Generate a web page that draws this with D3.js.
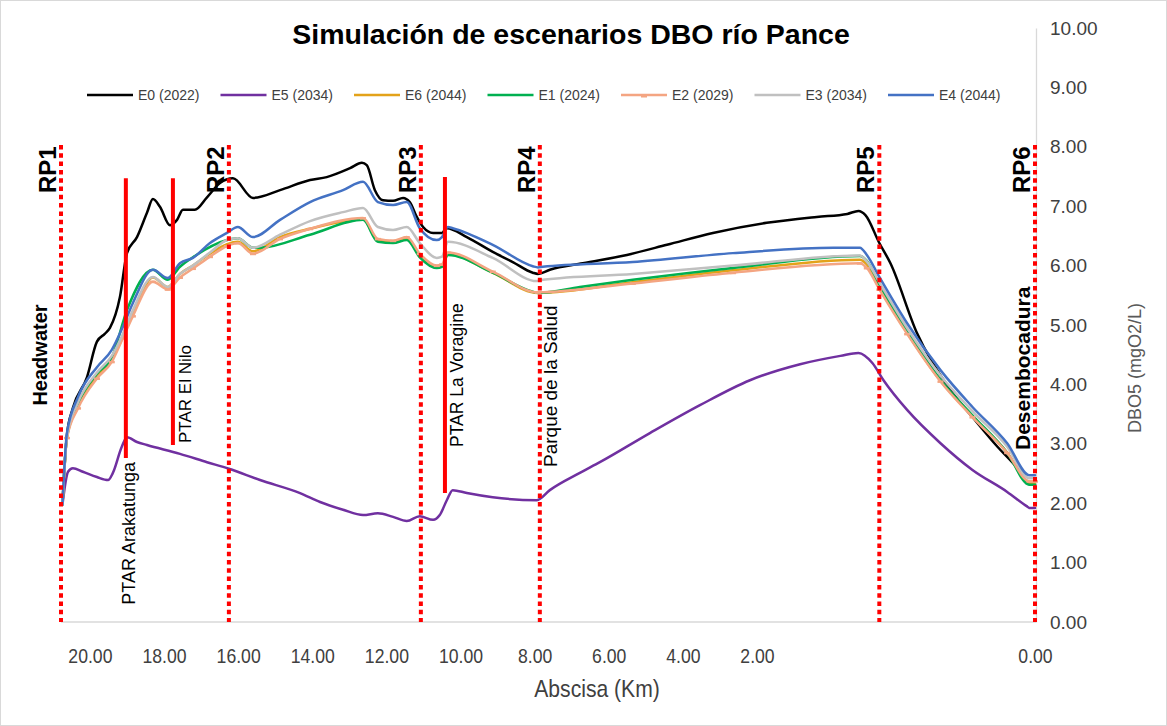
<!DOCTYPE html>
<html>
<head>
<meta charset="utf-8">
<script src="https://cdn.jsdelivr.net/npm/d3@7"></script>
<style>
  html, body { margin: 0; padding: 0; background: #fff; }
  svg { display: block; font-family: "Liberation Sans", Arial, sans-serif; }
</style>
</head>
<body>
<svg id="chart" width="1167" height="726"></svg>
<script>
// Simulated DBO5 (mgO2/L) along the Pance river, by scenario. [abscisa km, value]
const e0 = [[20.74,1.98],[20.62,3.15],[20.46,3.60],[20.08,4.12],[19.81,4.72],[19.60,4.85],[19.46,4.95],[19.19,5.47],[19.00,6.21],[18.73,6.48],[18.46,6.89],[18.30,7.12],[18.11,6.99],[17.84,6.68],[17.65,6.77],[17.49,6.94],[17.17,6.94],[16.84,7.15],[16.49,7.39],[16.14,7.47],[15.60,7.14],[14.87,7.27],[14.06,7.44],[13.61,7.49],[12.98,7.64],[12.66,7.73],[12.53,7.69],[12.31,7.27],[12.09,7.10],[11.82,7.09],[11.55,7.14],[11.37,7.07],[11.18,6.82],[11.01,6.65],[10.74,6.55],[10.50,6.55],[10.37,6.63],[9.83,6.48],[9.13,6.23],[8.59,6.06],[8.05,5.88],[7.91,5.86],[7.59,5.93],[6.70,6.04],[5.51,6.18],[4.43,6.35],[3.19,6.55],[1.93,6.72],[1.57,6.82],[1.35,6.87],[1.27,6.92],[1.22,6.85],[1.12,6.38],[1.04,6.04],[0.85,4.87],[0.61,3.91],[0.45,3.45],[0.27,2.95],[0.13,2.60],[0.03,2.31],[0,2.31]];
const e5 = [[20.74,1.98],[20.59,2.53],[20.46,2.59],[20.19,2.53],[19.81,2.44],[19.51,2.39],[19.38,2.51],[19.14,2.95],[19.00,3.11],[18.73,3.03],[18.46,2.98],[17.57,2.83],[16.84,2.69],[16.25,2.58],[15.41,2.39],[14.33,2.17],[13.79,2.02],[13.17,1.89],[12.63,1.80],[12.23,1.83],[11.82,1.77],[11.45,1.70],[11.10,1.78],[10.74,1.72],[10.56,1.80],[10.37,2.05],[10.21,2.22],[9.83,2.17],[9.13,2.10],[7.94,2.05],[7.59,2.22],[6.78,2.51],[6.24,2.69],[4.89,3.18],[3.54,3.65],[2.19,4.07],[1.69,4.34],[1.40,4.48],[1.27,4.53],[1.17,4.36],[1.09,4.07],[0.92,3.57],[0.68,3.01],[0.45,2.56],[0.20,2.19],[0.06,1.95],[0.04,1.92],[0,1.92]];
const e6 = [[20.74,1.98],[20.62,3.11],[20.32,3.64],[19.81,4.14],[19.41,4.42],[19.11,4.80],[18.84,5.18],[18.30,5.80],[17.90,5.64],[17.57,5.86],[17.22,6.00],[16.76,6.20],[16.30,6.36],[16.01,6.40],[15.60,6.24],[14.87,6.48],[14.06,6.62],[12.63,6.78],[12.23,6.42],[11.82,6.40],[11.45,6.45],[11.10,6.16],[10.64,5.97],[10.50,5.99],[10.34,6.19],[9.13,5.88],[7.91,5.54],[5.35,5.72],[2.65,5.92],[1.26,6.10],[1.21,6.02],[1.12,5.63],[0.92,4.87],[0.68,4.06],[0.45,3.46],[0.20,2.85],[0.04,2.34],[0,2.34]];
const e1 = [[20.74,1.98],[20.62,3.12],[20.32,3.68],[19.81,4.18],[19.41,4.45],[19.00,5.25],[18.30,5.93],[17.90,5.76],[17.57,5.98],[17.22,6.14],[16.30,6.43],[16.01,6.46],[15.60,6.30],[15.41,6.30],[14.06,6.52],[12.63,6.77],[12.23,6.40],[11.82,6.38],[11.45,6.43],[11.10,6.14],[10.64,5.96],[10.50,5.98],[10.34,6.18],[9.13,5.88],[8.05,5.56],[7.91,5.54],[6.78,5.64],[5.35,5.76],[2.65,5.96],[1.26,6.16],[1.21,6.08],[1.12,5.68],[0.92,4.90],[0.68,4.08],[0.45,3.48],[0.20,2.85],[0.04,2.31],[0,2.31]];
const e2 = [[20.74,1.98],[20.62,3.10],[20.32,3.60],[19.81,4.10],[19.41,4.38],[19.11,4.78],[18.84,5.15],[18.30,5.73],[17.90,5.60],[17.57,5.80],[17.22,5.95],[16.76,6.15],[16.30,6.33],[16.01,6.38],[15.60,6.20],[14.87,6.45],[14.06,6.62],[12.63,6.80],[12.23,6.45],[11.82,6.42],[11.45,6.48],[11.10,6.20],[10.64,6.00],[10.50,6.02],[10.34,6.22],[9.13,5.90],[7.91,5.55],[5.35,5.70],[2.65,5.88],[1.26,6.04],[1.21,5.96],[1.12,5.60],[0.92,4.85],[0.68,4.05],[0.45,3.45],[0.20,2.85],[0.04,2.37],[0,2.37]];
const e3 = [[20.74,1.98],[20.62,3.13],[20.32,3.70],[19.81,4.20],[19.41,4.48],[19.11,4.85],[18.84,5.25],[18.30,5.81],[17.90,5.64],[17.57,5.86],[17.22,6.00],[16.76,6.22],[16.30,6.43],[16.01,6.46],[15.60,6.30],[14.87,6.52],[14.06,6.75],[13.17,6.90],[12.63,6.97],[12.23,6.65],[11.82,6.60],[11.45,6.65],[11.10,6.38],[10.64,6.13],[10.50,6.15],[10.34,6.40],[9.13,6.13],[7.94,5.74],[7.78,5.76],[5.35,5.86],[2.65,6.00],[1.26,6.17],[1.21,6.07],[1.12,5.72],[0.92,4.95],[0.68,4.15],[0.45,3.55],[0.20,2.95],[0.04,2.42],[0,2.42]];
const e4 = [[20.74,1.98],[20.62,3.18],[20.32,3.79],[19.81,4.29],[19.41,4.58],[19.11,4.97],[18.84,5.37],[18.30,5.93],[17.90,5.79],[17.57,6.04],[17.22,6.13],[16.76,6.38],[16.30,6.55],[16.01,6.65],[15.60,6.48],[14.87,6.77],[14.06,7.07],[13.17,7.27],[12.63,7.41],[12.23,7.07],[11.82,7.02],[11.45,7.07],[11.10,6.63],[10.64,6.43],[10.50,6.48],[10.34,6.65],[10.21,6.63],[9.13,6.35],[8.05,5.99],[7.91,5.97],[7.78,5.98],[5.35,6.06],[2.65,6.21],[1.45,6.30],[1.26,6.30],[1.21,6.18],[1.12,5.81],[0.92,5.03],[0.68,4.24],[0.45,3.62],[0.20,3.01],[0.04,2.47],[0,2.47]];

const seriesNames = ["E0 (2022)", "E5 (2034)", "E6 (2044)", "E1 (2024)", "E2 (2029)", "E3 (2034)", "E4 (2044)"];
const seriesColors = ["#000000", "#7030a0", "#e3a21a", "#00b050", "#f4a582", "#c0c0c0", "#4472c4"];

// Reference points along the river (km)
const rpNames = ["RP1", "RP2", "RP3", "RP4", "RP5", "RP6"];
const rpKm = [20.78, 16.25, 11.07, 7.86, 1.12, 0];
// Treatment-plant discharges: km and vertical extent (mgO2/L)
const ptarKm = [19.03, 17.76, 10.42];
const ptarTop = [7.47, 7.47, 7.49];
const ptarBottom = [2.76, 2.98, 2.17];

const xTicks = [20, 18, 16, 14, 12, 10, 8, 6, 4, 2, 0];
const yTicks = [0, 1, 2, 3, 4, 5, 6, 7, 8, 9, 10];

const svg = d3.select("#chart");
const W = 1167, H = 726;

svg.append("rect").attr("x", 0.5).attr("y", 0.5).attr("width", W - 1).attr("height", H - 1)
  .attr("fill", "#fff").attr("stroke", "#d9d9d9");

// Abscisa axis is piecewise: the last stretch to the mouth is drawn wider.
const x = d3.scaleLinear().domain([20.78, 2, 0]).range([61, 757, 1035]);
const y = d3.scaleLinear().domain([0, 10]).range([622, 28]);

// Axes
const xAxis = svg.append("g").attr("transform", `translate(0,${y(0)})`)
  .call(d3.axisBottom(x).tickValues(xTicks).tickFormat(d3.format(".2f")).tickSize(0).tickPadding(26));
xAxis.select(".domain").attr("stroke", "#d9d9d9").attr("stroke-width", 1.3)
  .attr("d", `M${x(20.78)},0H${x(0) + 1}`);
xAxis.selectAll("text").attr("font-size", 20.5).attr("fill", "#404040")
  .attr("transform", "scale(0.86,1)")
  .attr("font-family", "'Liberation Sans', Arial, sans-serif");

const yAxis = svg.append("g").attr("transform", `translate(${x(0) + 1},0)`)
  .call(d3.axisRight(y).tickValues(yTicks).tickFormat(d3.format(".2f")).tickSize(0).tickPadding(14));
yAxis.select(".domain").attr("stroke", "#d9d9d9").attr("stroke-width", 1.3);
yAxis.selectAll("text").attr("font-size", 19).attr("fill", "#404040")
  .attr("font-family", "'Liberation Sans', Arial, sans-serif");

// Titles
svg.append("text").attr("x", 571).attr("y", 44).attr("text-anchor", "middle")
  .attr("font-size", 28.5).attr("font-weight", "bold").attr("fill", "#000")
  .text("Simulación de escenarios DBO río Pance");
svg.append("text").attr("transform", "translate(597,697) scale(0.88,1)").attr("text-anchor", "middle")
  .attr("font-size", 24).attr("fill", "#404040").text("Abscisa (Km)");
svg.append("text").attr("transform", "translate(1141,368) rotate(-90)").attr("text-anchor", "middle")
  .attr("font-size", 18).attr("fill", "#595959").text("DBO5 (mgO2/L)");

// Legend
const legend = svg.append("g").attr("transform", "translate(87,95)");
seriesNames.forEach((name, i) => {
  const g = legend.append("g").attr("transform", `translate(${i * 133.5},0)`);
  g.append("line").attr("x1", 0).attr("x2", 46).attr("y1", 0).attr("y2", 0)
    .attr("stroke", seriesColors[i]).attr("stroke-width", 2.5);
  if (i === 4) {
    g.append("rect").attr("x", 20).attr("y", 0).attr("width", 6).attr("height", 2.5).attr("fill", seriesColors[i]);
  }
  g.append("text").attr("x", 51).attr("y", 5).attr("font-size", 14).attr("fill", "#404040").text(name);
});

// Scenario lines
const line = d3.line().x(d => x(d[0])).y(d => y(d[1])).curve(d3.curveMonotoneX);
const allSeries = [e0, e5, e6, e1, e2, e3, e4];
allSeries.forEach((data, i) => {
  svg.append("path").datum(data).attr("d", line).attr("fill", "none")
    .attr("stroke", seriesColors[i]).attr("stroke-width", 2.5)
    .attr("stroke-linejoin", "round").attr("stroke-linecap", "round");
  if (i === 4) {
    svg.append("g").selectAll("rect").data(data.slice(1)).join("rect")
      .attr("x", d => x(d[0]) - 3).attr("y", d => y(d[1]) - 1)
      .attr("width", 6).attr("height", 2.5).attr("fill", seriesColors[i]);
  }
});

// Treatment-plant discharge markers
ptarKm.forEach((k, i) => {
  svg.append("line").attr("x1", x(k)).attr("x2", x(k))
    .attr("y1", y(ptarTop[i])).attr("y2", y(ptarBottom[i]))
    .attr("stroke", "#ff0000").attr("stroke-width", 4);
});

// Reference-point dotted lines
rpKm.forEach(k => {
  svg.append("line").attr("x1", x(k)).attr("x2", x(k))
    .attr("y1", y(8.03)).attr("y2", y(0))
    .attr("stroke", "#ff0000").attr("stroke-width", 4).attr("stroke-dasharray", "4.5 3.8");
});

// Rotated labels
function vlabel(px, py, txt, size, bold, anchor) {
  svg.append("text").attr("transform", `translate(${px},${py}) rotate(-90)`)
    .attr("text-anchor", anchor).attr("font-size", size)
    .attr("font-weight", bold ? "bold" : "normal").attr("fill", "#000").text(txt);
}
rpNames.forEach((n, i) => vlabel(x(rpKm[i]) - 5, 193, n, 24, true, "start"));
vlabel(x(rpKm[0]) - 14, 355, "Headwater", 20, true, "middle");
vlabel(x(ptarKm[0]) + 9, 462, "PTAR Arakatunga", 18, false, "end");
vlabel(x(ptarKm[1]) + 18, 443, "PTAR El Nilo", 17, false, "start");
vlabel(x(ptarKm[2]) + 18, 447, "PTAR La Voragine", 17.5, false, "start");
vlabel(x(rpKm[3]) + 17, 467, "Parque de la  Salud", 19, false, "start");
vlabel(x(rpKm[5]) - 5, 450, "Desembocadura", 21, true, "start");
</script>
</body>
</html>
